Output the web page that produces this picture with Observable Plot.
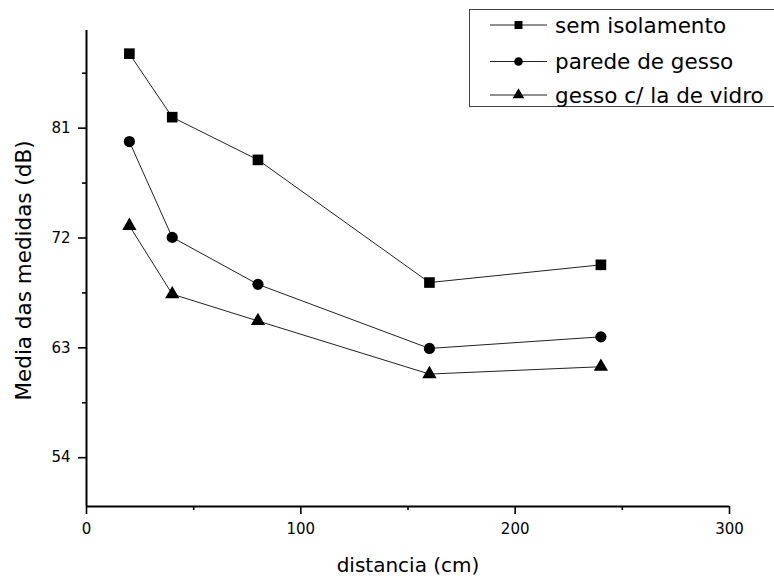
<!DOCTYPE html>
<html><head><meta charset="utf-8">
<script src="https://cdn.jsdelivr.net/npm/d3@7"></script>
<script src="https://cdn.jsdelivr.net/npm/@observablehq/plot@0.6"></script>
<style>
body{margin:0;background:#fff;overflow:hidden;width:774px;height:579px;position:relative;font-family:"DejaVu Sans",sans-serif}
#chart{position:absolute;left:0;top:0}
#legend{position:absolute;left:0;top:0}
</style></head><body><div id="chart"></div><svg id="legend" width="774" height="120"></svg>
<script>
const distances = [20, 40, 80, 160, 240];
const seriesNames = ["sem isolamento", "parede de gesso", "gesso c/ la de vidro"];
const semIsolamento = [87.1, 81.9, 78.4, 68.35, 69.8];
const paredeGesso = [79.9, 72.05, 68.2, 62.95, 63.9];
const gessoLaVidro = [73.0, 67.4, 65.2, 60.85, 61.45];
const xTicks = [0, 100, 200, 300];
const xMinorTicks = [50, 150, 250];
const yTicks = [54, 63, 72, 81];
const yMinorTicks = [58.5, 67.5, 76.5, 85.5];
const xLabel = "distancia (cm)";
const yLabel = "Media das medidas (dB)";

const seriesValues = [semIsolamento, paredeGesso, gessoLaVidro];
const symbols = ["square", "circle", "triangle"];
const radii = [6, 5.6, 5.3];
const rows = [];
seriesNames.forEach((s, i) => distances.forEach((d, j) => rows.push({series: s, idx: i, x: d, y: seriesValues[i][j]})));

const font = "DejaVu Sans";
const plot = Plot.plot({
  width: 774, height: 579,
  marginLeft: 86, marginRight: 45, marginTop: 30, marginBottom: 73,
  style: {fontFamily: font, fontSize: "15px", color: "#000", background: "#fff", overflow: "visible"},
  x: {domain: [0, 300], label: null},
  y: {domain: [50, 89], label: null},
  marks: [
    Plot.axisX({ticks: xTicks, tickSize: 8, tickPadding: 9, strokeWidth: 1.6, fontSize: 15, label: null}),
    Plot.axisX({ticks: xMinorTicks, tickSize: 4, tickFormat: () => "", strokeWidth: 1.6, label: null}),
    Plot.axisY({ticks: yTicks, tickSize: 8, tickPadding: 8, strokeWidth: 1.6, fontSize: 15, label: null}),
    Plot.axisY({ticks: yMinorTicks, tickSize: 4, tickFormat: () => "", strokeWidth: 1.6, label: null}),
    Plot.ruleY([50], {strokeWidth: 2}),
    Plot.ruleX([0], {strokeWidth: 2}),
    Plot.line(rows, {x: "x", y: "y", z: "series", stroke: "#222", strokeWidth: 1}),
    ...symbols.map((sym, i) => Plot.dot(rows.filter(r => r.idx === i), {x: "x", y: "y", symbol: sym, r: radii[i], fill: "#000", stroke: "none"})),
    Plot.text([xLabel], {frameAnchor: "bottom", dy: 65, fontSize: 20, text: d => d, fill: "#000"}),
    Plot.text([yLabel], {frameAnchor: "left", textAnchor: "middle", rotate: -90, dx: -62, dy: 2, fontSize: 21.5, text: d => d, fill: "#000"})
  ]
});
document.getElementById("chart").appendChild(plot);

// legend
const lg = d3.select("#legend");
lg.append("rect").attr("x", 469.5).attr("y", 9.5).attr("width", 320).attr("height", 97).attr("fill", "#fff").attr("stroke", "#444").attr("stroke-width", 1);
const rowY = [25, 61.5, 95];
const legRadii = [4.5, 4.3, 4.3];
seriesNames.forEach((s, i) => {
  const g = lg.append("g").attr("transform", `translate(0,${rowY[i]})`);
  g.append("line").attr("x1", 490).attr("x2", 547).attr("y1", 0).attr("y2", 0).attr("stroke", "#222").attr("stroke-width", 1);
  const symType = [d3.symbolSquare, d3.symbolCircle, d3.symbolTriangle][i];
  g.append("path").attr("transform", "translate(518.5,0)").attr("d", d3.symbol(symType, Math.PI * legRadii[i] * legRadii[i])()).attr("fill", "#000");
  g.append("text").attr("x", 555).attr("y", 7.5).attr("font-family", font).attr("font-size", 21.5).attr("fill", "#000").text(s);
});
</script>
</body></html>
